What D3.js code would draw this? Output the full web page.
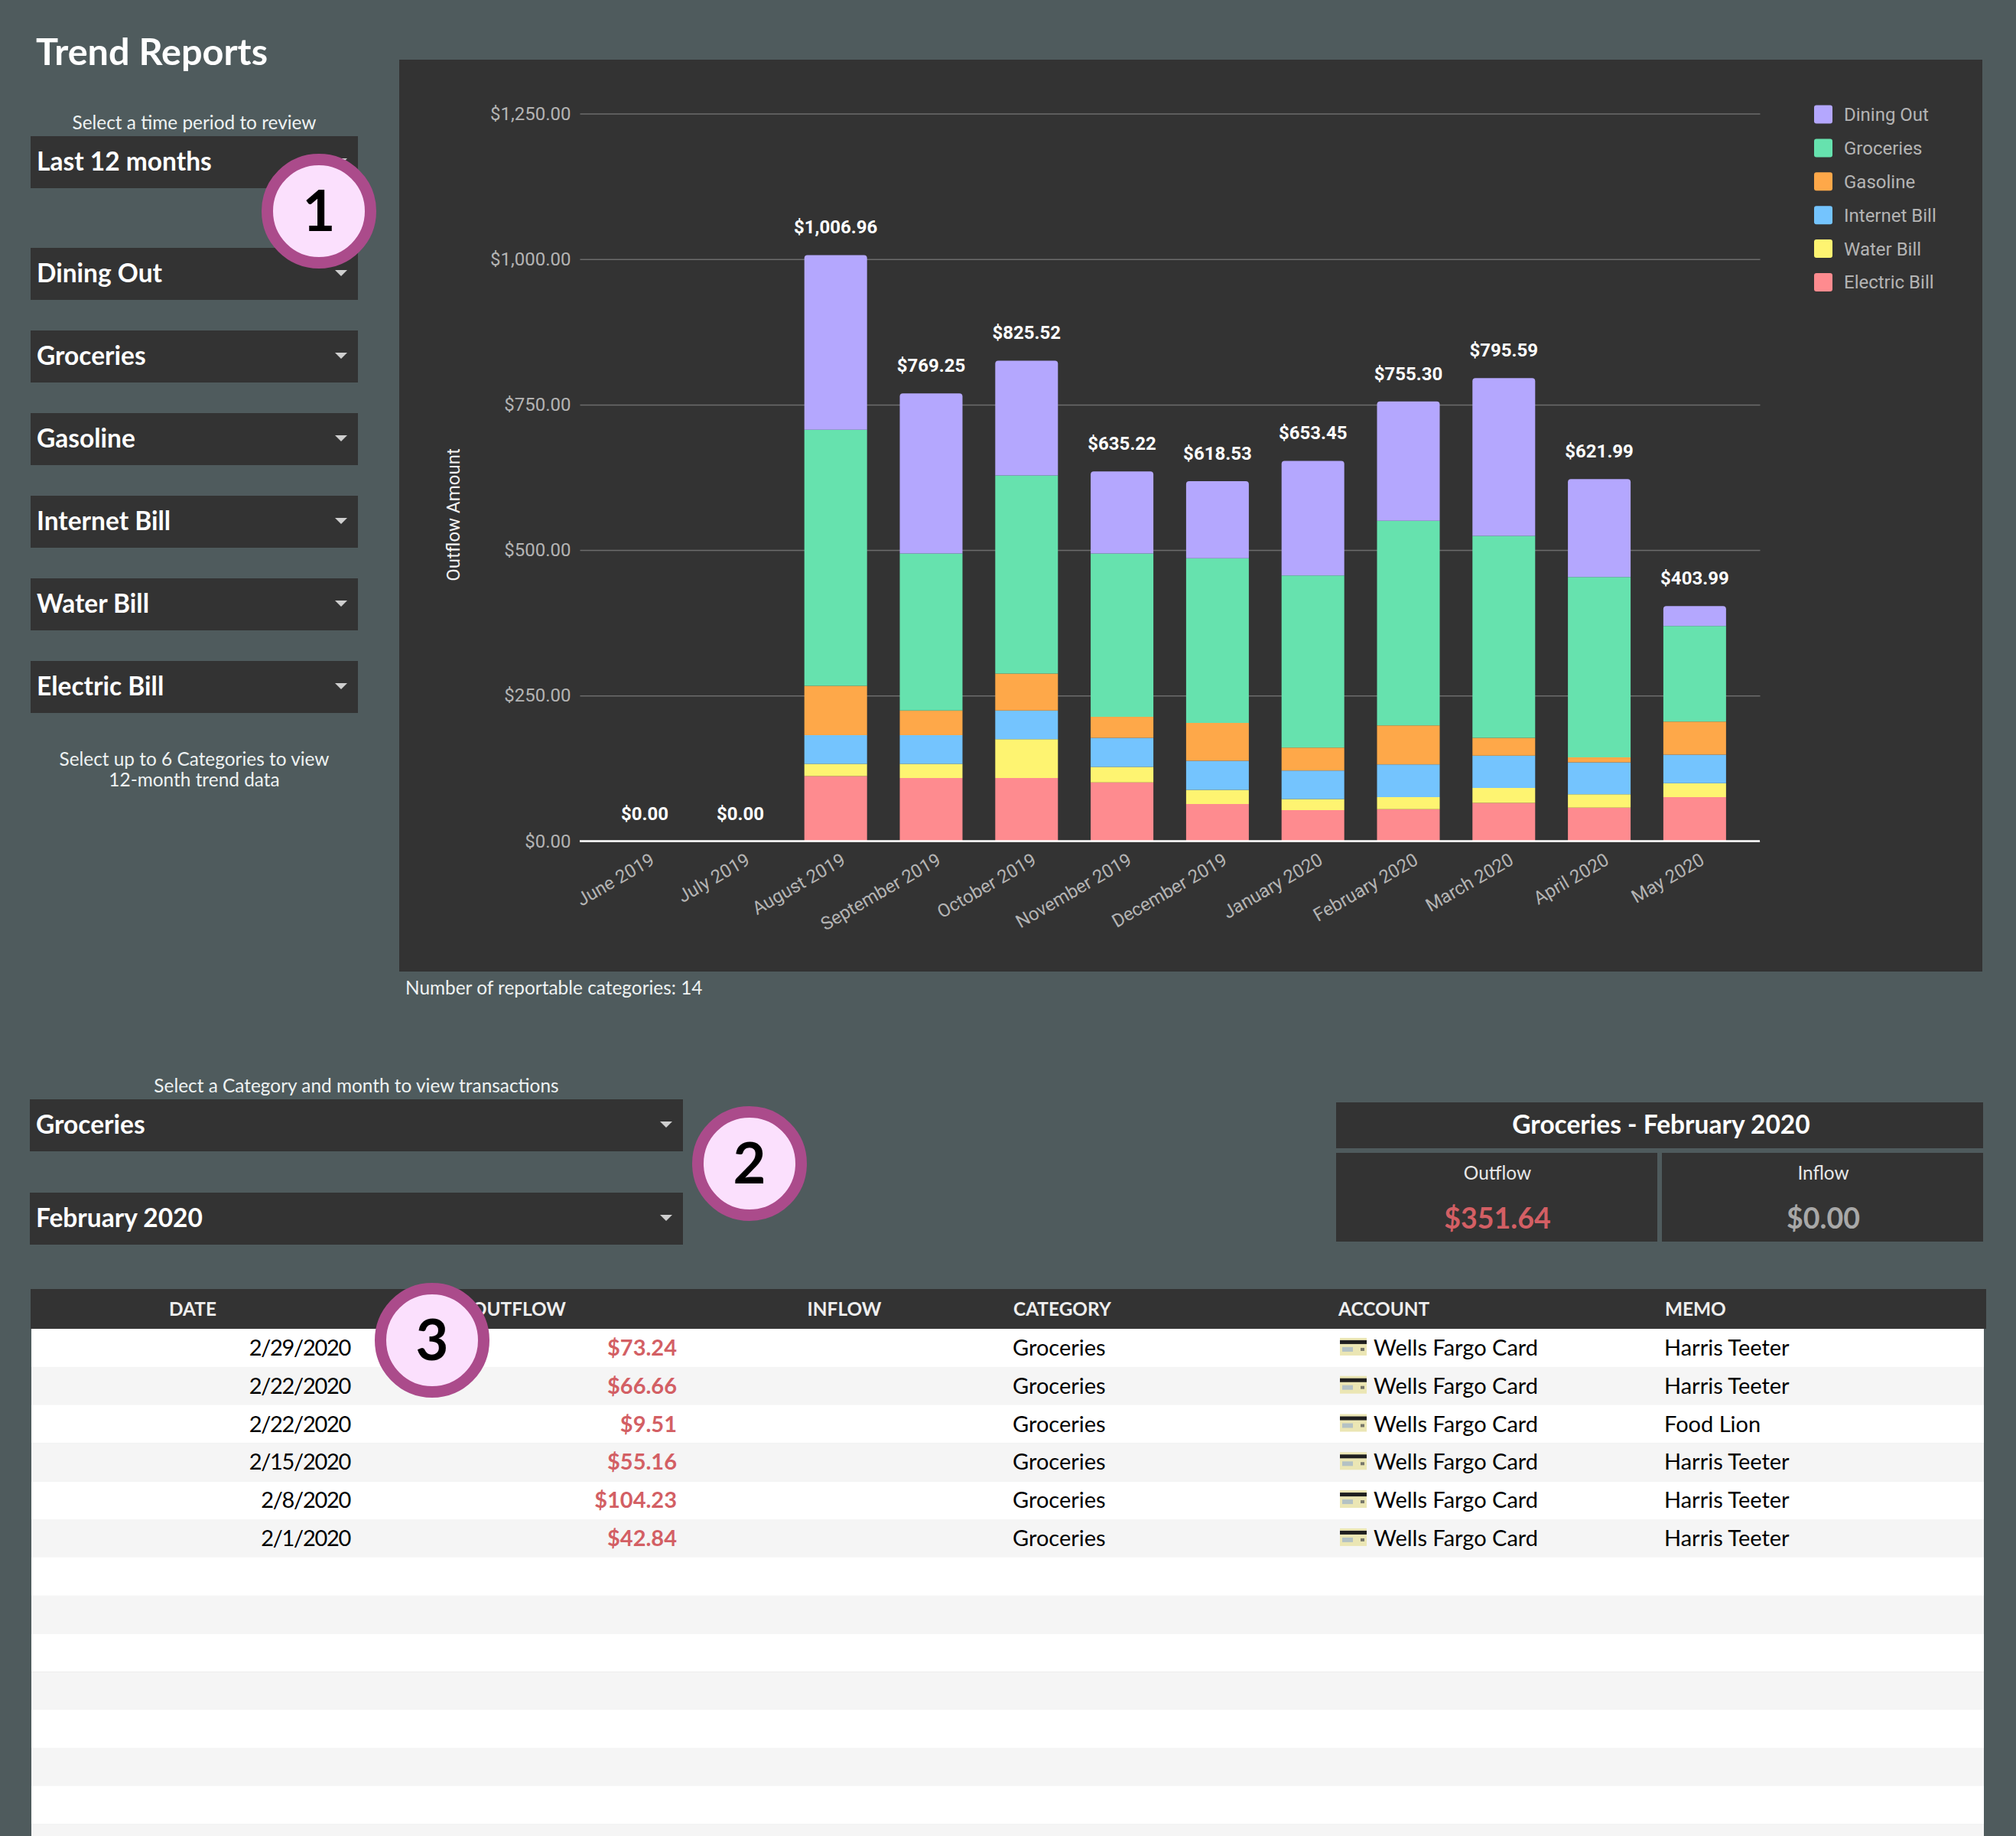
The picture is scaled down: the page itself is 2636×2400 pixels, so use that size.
<!DOCTYPE html>
<html>
<head>
<meta charset="utf-8">
<script src="https://d3js.org/d3.v7.min.js"></script>
<style>
  html, body { margin: 0; padding: 0; background: #4f5b5d; }
  svg { display: block; }
  text { font-family: Lato, sans-serif; }
  .chart text { font-family: Roboto, sans-serif; }
</style>
</head>
<body>
<svg width="2636" height="2400"></svg>
<script>
// Chart data
const months = ["June 2019", "July 2019", "August 2019", "September 2019", "October 2019", "November 2019",
  "December 2019", "January 2020", "February 2020", "March 2020", "April 2020", "May 2020"];
const categories = ["Electric Bill", "Water Bill", "Internet Bill", "Gasoline", "Groceries", "Dining Out"];
const legendOrder = ["Dining Out", "Groceries", "Gasoline", "Internet Bill", "Water Bill", "Electric Bill"];
const electric = [0, 0, 111.6, 108.5, 108.5, 101.0, 63.9, 53.3, 54.8, 65.6, 57.6, 75.7];
const water = [0, 0, 21.2, 24.2, 66.6, 26.5, 24.2, 18.9, 20.9, 25.9, 23.0, 23.8];
const internet = [0, 0, 49.2, 49.2, 49.2, 49.9, 49.9, 49.2, 56.2, 55.5, 54.8, 49.0];
const gasoline = [0, 0, 84.7, 42.4, 63.5, 36.3, 65.0, 39.3, 67.0, 30.3, 8.6, 56.9];
const groceries = [0, 0, 440.2, 270.0, 340.4, 280.6, 282.9, 295.8, 351.64, 347.3, 309.8, 164.3];
const dining = [0, 0, 300.06, 274.95, 197.32, 140.92, 132.63, 196.85, 204.76, 271.0, 168.19, 34.29];
const totals = [0, 0, 1006.96, 769.25, 825.52, 635.22, 618.53, 653.45, 755.30, 795.59, 621.99, 403.99];
const yTicks = [0, 250, 500, 750, 1000, 1250];
const seriesColors = ["#fe8b8f", "#fef471", "#74c4fe", "#fea849", "#66e2ae", "#b4a7fe"];

// Filters
const categoryFilters = ["Dining Out", "Groceries", "Gasoline", "Internet Bill", "Water Bill", "Electric Bill"];

// Transactions
const tableHeaders = ["DATE", "OUTFLOW", "INFLOW", "CATEGORY", "ACCOUNT", "MEMO"];
const txDates = ["2/29/2020", "2/22/2020", "2/22/2020", "2/15/2020", "2/8/2020", "2/1/2020"];
const txOutflow = ["$73.24", "$66.66", "$9.51", "$55.16", "$104.23", "$42.84"];
const txMemo = ["Harris Teeter", "Harris Teeter", "Food Lion", "Harris Teeter", "Harris Teeter", "Harris Teeter"];

const money = d3.format("$,.2f");
const svg = d3.select("svg");
const panel = "#333333";

svg.append("rect").attr("width", 2636).attr("height", 2400).attr("fill", "#4f5b5d");

// ---------------- left column ----------------
function dropdown(x, y, w, label) {
  svg.append("rect").attr("x", x).attr("y", y).attr("width", w).attr("height", 68).attr("fill", panel);
  svg.append("text").attr("x", x + 8).attr("y", y + 33).attr("dy", "0.35em")
    .attr("font-size", 33.5).attr("font-weight", 700).attr("fill", "#fff").text(label);
  const ax = x + w - 22, ay = y + 29;
  svg.append("path").attr("d", `M${ax - 8},${ay}L${ax + 8},${ay}L${ax},${ay + 8}Z`).attr("fill", "#cfcfcf");
}

function note(x, y, size, txt, anchor) {
  svg.append("text").attr("x", x).attr("y", y).attr("dy", "0.35em").attr("text-anchor", anchor || "middle")
    .attr("font-size", size).attr("fill", "#eef2f2").text(txt);
}

svg.append("text").attr("x", 47).attr("y", 68).attr("dy", "0.35em")
  .attr("font-size", 48.6).attr("font-weight", 700).attr("fill", "#fff").text("Trend Reports");
note(254, 160, 24.4, "Select a time period to review");
dropdown(40, 178, 428, "Last 12 months");
categoryFilters.forEach((c, i) => dropdown(40, 324 + i * 108, 428, c));
note(254, 992, 24.4, "Select up to 6 Categories to view");
note(254, 1019, 24.4, "12-month trend data");

// ---------------- stacked bars ----------------
svg.append("rect").attr("x", 522).attr("y", 78).attr("width", 2070).attr("height", 1192).attr("fill", panel);

const chart = svg.append("g").attr("class", "chart");
const x = d3.scaleBand().domain(months).range([758, 2301]).paddingInner(0.343).paddingOuter(0.3535);
const y = d3.scaleLinear().domain([0, 1250]).range([1099.5, 148.5]);

const gy = chart.append("g").attr("transform", "translate(758.5,0)")
  .call(d3.axisLeft(y).tickValues(yTicks).tickFormat(money).tickSize(-1543).tickPadding(12));
gy.select(".domain").remove();
gy.selectAll(".tick line").attr("stroke", "#6c6c6c").attr("stroke-width", 1.5);
gy.selectAll(".tick text").attr("font-size", 24).attr("fill", "#b4b4b4");

const rows = months.map((m, i) => ({
  month: m, "Electric Bill": electric[i], "Water Bill": water[i], "Internet Bill": internet[i],
  "Gasoline": gasoline[i], "Groceries": groceries[i], "Dining Out": dining[i]
}));
const stack = d3.stack().keys(categories)(rows);
const color = d3.scaleOrdinal().domain(categories).range(seriesColors);

function segment(d, isTop) {
  const x0 = x(d.data.month), x1 = x0 + x.bandwidth();
  const yb = y(d[0]), yt = y(d[1]), r = isTop ? 4 : 0;
  const p = d3.path();
  p.moveTo(x0, yb);
  p.lineTo(x0, yt + r);
  if (r) p.arcTo(x0, yt, x0 + r, yt, r);
  p.lineTo(x1 - r, yt);
  if (r) p.arcTo(x1, yt, x1, yt + r, r);
  p.lineTo(x1, yb);
  p.closePath();
  return p.toString();
}

chart.selectAll("g.series").data(stack).join("g").attr("class", "series")
  .attr("fill", s => color(s.key))
  .selectAll("path").data(s => s.filter(d => d[1] > d[0]).map(d => ({ d, isTop: s.key === "Dining Out" })))
  .join("path").attr("d", o => segment(o.d, o.isTop));

// baseline
chart.append("line").attr("x1", 758).attr("x2", 2301).attr("y1", y(0)).attr("y2", y(0))
  .attr("stroke", "#fff").attr("stroke-width", 2.5);

// totals above bars
chart.selectAll("text.total").data(months).join("text").attr("class", "total")
  .attr("x", m => x(m) + x.bandwidth() / 2)
  .attr("y", (m, i) => y(totals[i]) - 28)
  .attr("text-anchor", "middle").attr("font-size", 24).attr("font-weight", 700).attr("fill", "#fff")
  .text((m, i) => money(totals[i]));

const gx = chart.append("g").attr("transform", `translate(1,${y(0)})`)
  .call(d3.axisBottom(x).tickSize(0));
gx.select(".domain").remove();
gx.selectAll(".tick text")
  .attr("font-size", 24).attr("fill", "#b4b4b4")
  .attr("text-anchor", "end")
  .attr("dx", -3).attr("dy", 29)
  .attr("transform", "rotate(-30)");

chart.append("text").attr("transform", "translate(593,673) rotate(-90)").attr("dy", "0.35em")
  .attr("text-anchor", "middle").attr("font-size", 24).attr("fill", "#f2f2f2").text("Outflow Amount");

// legend
const legendY = d3.scalePoint().domain(legendOrder).range([149.5, 369]);
const legend = chart.selectAll("g.key").data(legendOrder).join("g").attr("class", "key")
  .attr("transform", c => `translate(2372,${legendY(c)})`);
legend.append("rect").attr("y", -12).attr("width", 24).attr("height", 24).attr("rx", 3).attr("fill", c => color(c));
legend.append("text").attr("x", 39).attr("dy", "0.35em").attr("font-size", 24).attr("fill", "#b4b4b4").text(c => c);

note(530, 1291, 24.4, "Number of reportable categories: 14", "start");

// ---------------- transaction filters ----------------
note(466, 1419, 24.4, "Select a Category and month to view transactions");
dropdown(39, 1437, 854, "Groceries");
dropdown(39, 1559, 854, "February 2020");

// ---------------- scorecards ----------------
svg.append("rect").attr("x", 1747).attr("y", 1441).attr("width", 846).attr("height", 60).attr("fill", panel);
svg.append("text").attr("x", 2172).attr("y", 1470).attr("dy", "0.35em").attr("text-anchor", "middle")
  .attr("font-size", 33.5).attr("font-weight", 700).attr("fill", "#fff").text("Groceries - February 2020");

function scorecard(xPos, w, label, value, fill) {
  svg.append("rect").attr("x", xPos).attr("y", 1507).attr("width", w).attr("height", 116).attr("fill", panel);
  svg.append("text").attr("x", xPos + w / 2 + 1).attr("y", 1533).attr("dy", "0.35em").attr("text-anchor", "middle")
    .attr("font-size", 24.4).attr("fill", "#e8e8e8").text(label);
  svg.append("text").attr("x", xPos + w / 2 + 1).attr("y", 1593).attr("dy", "0.35em").attr("text-anchor", "middle")
    .attr("font-size", 37.5).attr("font-weight", 700).attr("fill", fill).text(value);
}
scorecard(1747, 420, "Outflow", "$351.64", "#d35f64");
scorecard(2173, 420, "Inflow", "$0.00", "#a8a8a8");

// ---------------- transactions table ----------------
const rowH = 49.8, tableTop = 1737;
svg.append("rect").attr("x", 40).attr("y", 1685).attr("width", 2557).attr("height", 52).attr("fill", panel);

const headerPos = [
  { x: 252, anchor: "middle" }, { x: 740, anchor: "end" }, { x: 1104, anchor: "middle" },
  { x: 1325, anchor: "start" }, { x: 1750, anchor: "start" }, { x: 2177, anchor: "start" }
];
tableHeaders.forEach((h, i) => {
  svg.append("text").attr("x", headerPos[i].x).attr("y", 1711).attr("dy", "0.35em")
    .attr("text-anchor", headerPos[i].anchor).attr("font-size", 24.4).attr("font-weight", 700)
    .attr("fill", "#eeeeee").text(h);
});

d3.range(14).forEach(i => {
  svg.append("rect").attr("x", 41).attr("y", tableTop + i * rowH).attr("width", 2553).attr("height", rowH + 0.5)
    .attr("fill", i % 2 ? "#f5f5f5" : "#ffffff");
});

function card(g) {
  g.append("rect").attr("width", 35).attr("height", 23).attr("fill", "#ebe6b4");
  g.append("rect").attr("y", 3).attr("width", 35).attr("height", 5).attr("fill", "#1f1f1f");
  g.append("rect").attr("x", 3).attr("y", 12).attr("width", 14).attr("height", 6).attr("fill", "#b4c2c4");
  g.append("rect").attr("x", 27).attr("y", 13).attr("width", 5).attr("height", 4).attr("fill", "#77776a");
}

txDates.forEach((d, i) => {
  const cy = tableTop + i * rowH + rowH / 2;
  const cell = (xp, txt, anchor, fill, weight) => svg.append("text").attr("x", xp).attr("y", cy).attr("dy", "0.35em")
    .attr("text-anchor", anchor).attr("font-size", 29).attr("font-weight", weight || 400).attr("fill", fill).text(txt);
  cell(458, d, "end", "#000").attr("letter-spacing", -1.3);
  cell(885, txOutflow[i], "end", "#d35f64", 700);
  cell(1324, "Groceries", "start", "#000");
  card(svg.append("g").attr("transform", `translate(1752,${cy - 13})`));
  cell(1796, "Wells Fargo Card", "start", "#000");
  cell(2176, txMemo[i], "start", "#000");
});

// ---------------- numbered badges ----------------
function badge(cx, cy, n) {
  svg.append("circle").attr("cx", cx).attr("cy", cy).attr("r", 67.5)
    .attr("fill", "#fbe0fd").attr("stroke", "#ab4b8b").attr("stroke-width", 15);
  svg.append("text").attr("x", cx).attr("y", cy).attr("dy", "0.35em").attr("text-anchor", "middle")
    .attr("font-size", 74).attr("font-weight", 700).attr("fill", "#000").text(n);
}
badge(417, 276, "1");
badge(980, 1521, "2");
badge(565, 1752, "3");
</script>
</body>
</html>
